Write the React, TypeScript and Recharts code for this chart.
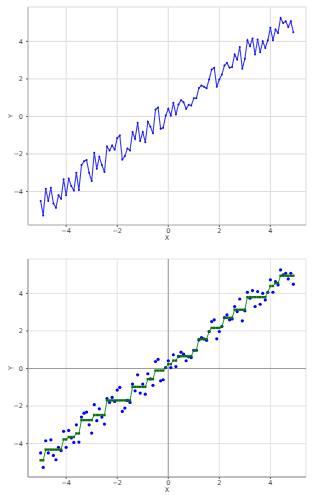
import React from 'react';
import {
  LineChart,
  Line,
  XAxis,
  YAxis,
  CartesianGrid,
  ComposedChart,
  Scatter,
  ReferenceLine,
} from 'recharts';

const X_VALUES = [
  -5.0, -4.9, -4.8, -4.7, -4.6, -4.5, -4.4, -4.3, -4.2, -4.1,
  -4.0, -3.9, -3.8, -3.7, -3.6, -3.5, -3.4, -3.3, -3.2, -3.1,
  -3.0, -2.9, -2.8, -2.7, -2.6, -2.5, -2.4, -2.3, -2.2, -2.1,
  -2.0, -1.9, -1.8, -1.7, -1.6, -1.5, -1.4, -1.3, -1.2, -1.1,
  -1.0, -0.9, -0.8, -0.7, -0.6, -0.5, -0.4, -0.3, -0.2, -0.1,
  0.0, 0.1, 0.2, 0.3, 0.4, 0.5, 0.6, 0.7, 0.8, 0.9,
  1.0, 1.1, 1.2, 1.3, 1.4, 1.5, 1.6, 1.7, 1.8, 1.9,
  2.0, 2.1, 2.2, 2.3, 2.4, 2.5, 2.6, 2.7, 2.8, 2.9,
  3.0, 3.1, 3.2, 3.3, 3.4, 3.5, 3.6, 3.7, 3.8, 3.9,
  4.0, 4.1, 4.2, 4.3, 4.4, 4.5, 4.6, 4.7, 4.8, 4.9,
];

const Y_VALUES = [
  -4.5, -5.27, -3.85, -4.5, -3.8, -4.63, -4.86, -4.2, -4.38, -3.35,
  -4.2, -3.3, -3.7, -3.94, -3.0, -3.92, -2.59, -2.38, -2.32, -3.0,
  -3.44, -1.93, -2.78, -2.15, -2.59, -2.96, -1.6, -1.81, -1.54, -1.76,
  -1.15, -1.01, -2.29, -2.11, -1.7, -1.81, -0.83, -1.19, -0.34, -1.31,
  -0.83, -1.37, -0.28, -0.55, -0.9, 0.37, 0.48, -0.66, -0.6, 0.05,
  0.41, 0.05, 0.73, 0.1, 0.64, 0.87, 0.76, 0.41, 0.62, 0.58,
  0.97, 0.97, 1.52, 1.65, 1.58, 1.5, 1.97, 2.5, 2.59, 1.58,
  1.97, 2.23, 2.71, 2.85, 2.59, 2.64, 3.3, 3.03, 3.7, 2.54,
  3.07, 4.06, 3.74, 4.15, 3.3, 4.1, 3.42, 4.0, 3.65, 4.06,
  4.72, 4.06, 4.63, 4.45, 5.25, 4.98, 5.07, 4.77, 5.07, 4.49,
];

const STEP_VALUES = [
  -4.89, -4.89, -4.32, -4.32, -4.32, -4.32, -4.32, -4.32, -4.32, -3.78,
  -3.78, -3.65, -3.65, -3.65, -3.46, -3.46, -2.75, -2.75, -2.75, -2.75,
  -2.75, -2.48, -2.48, -2.48, -2.48, -2.48, -1.7, -1.7, -1.7, -1.7,
  -1.7, -1.7, -1.7, -1.7, -1.7, -1.7, -0.98, -0.98, -0.98, -0.98,
  -0.98, -0.98, -0.57, -0.57, -0.57, -0.11, -0.11, -0.11, -0.11, 0.05,
  0.23, 0.23, 0.42, 0.42, 0.65, 0.65, 0.65, 0.65, 0.65, 0.65,
  0.97, 0.97, 1.56, 1.56, 1.56, 1.56, 1.97, 2.16, 2.16, 2.16,
  2.16, 2.23, 2.7, 2.7, 2.7, 2.7, 3.13, 3.13, 3.13, 3.13,
  3.13, 3.8, 3.8, 3.8, 3.8, 3.8, 3.8, 3.8, 3.8, 4.06,
  4.39, 4.39, 4.54, 4.54, 4.94, 4.94, 4.94, 4.94, 4.94, 4.94,
];

const TICKS = [-4, -2, 0, 2, 4];
const X_DOMAIN: [number, number] = [-5.495, 5.395];
const Y_DOMAIN: [number, number] = [-5.78, 5.83];

const data = X_VALUES.map((x, i) => ({ x, y: Y_VALUES[i], step: STEP_VALUES[i] }));

const FONT = 'DejaVu Sans, sans-serif';
const TEXT_COLOR = '#444';
const fmt = (v: number) => String(v).replace('-', '\u2212');
const tickStyle = { fontSize: 6.5, fill: TEXT_COLOR, fontFamily: FONT };

const XLabel = (props: any) => {
  const vb = props.viewBox || { x: 28, y: 225, width: 278, height: 21 };
  return (
    <text
      x={vb.x + vb.width / 2}
      y={vb.y + 15}
      textAnchor="middle"
      fontSize={6.5}
      fill={TEXT_COLOR}
      fontFamily={FONT}
    >
      X
    </text>
  );
};

const YLabel = (props: any) => {
  const vb = props.viewBox || { x: 0, y: 7, width: 28, height: 218 };
  const cx = vb.x + 11;
  const cy = vb.y + vb.height / 2;
  return (
    <text
      x={cx}
      y={cy}
      textAnchor="middle"
      dominantBaseline="central"
      fontSize={6.5}
      fill={TEXT_COLOR}
      fontFamily={FONT}
      transform={`rotate(-90, ${cx}, ${cy})`}
    >
      Y
    </text>
  );
};

const W = 326;
const H = 246;
const MARGIN = { top: 7, right: 20, bottom: 0, left: 0 };

const BlueDot = (props: any) => {
  const { cx, cy } = props;
  if (cx == null || cy == null) return null;
  return <circle cx={cx} cy={cy} r={1.6} fill="#0000ff" />;
};

const GreenDot = (props: any) => {
  const { cx, cy } = props;
  if (cx == null || cy == null) return null;
  return <rect x={cx - 1.2} y={cy - 1.2} width={2.4} height={2.4} fill="#0b6e0b" />;
};

const SmallBlueDot = (props: any) => {
  const { cx, cy } = props;
  if (cx == null || cy == null) return null;
  return <circle cx={cx} cy={cy} r={1} fill="#1010e0" />;
};

function axes(borderColor: string) {
  return [
    <XAxis
      key="xb"
      xAxisId={0}
      dataKey="x"
      type="number"
      domain={X_DOMAIN}
      ticks={TICKS}
      allowDataOverflow
      tickFormatter={fmt}
      tick={tickStyle}
      tickSize={2}
      tickMargin={1}
      stroke={borderColor}
      tickLine={{ stroke: '#666' }}
      height={21}
      label={<XLabel />}
    />,
    <XAxis
      key="xt"
      xAxisId="top"
      orientation="top"
      type="number"
      domain={X_DOMAIN}
      allowDataOverflow
      tick={false}
      tickLine={false}
      stroke={borderColor}
      height={0}
    />,
    <YAxis
      key="yl"
      yAxisId={0}
      type="number"
      domain={Y_DOMAIN}
      ticks={TICKS}
      allowDataOverflow
      tickFormatter={fmt}
      tick={tickStyle}
      tickSize={2}
      tickMargin={3}
      stroke={borderColor}
      tickLine={{ stroke: '#666' }}
      width={28}
      label={<YLabel />}
    />,
    <YAxis
      key="yr"
      yAxisId="right"
      orientation="right"
      type="number"
      domain={Y_DOMAIN}
      allowDataOverflow
      tick={false}
      tickLine={false}
      stroke={borderColor}
      width={0}
    />,
  ];
}

export default function App() {
  return (
    <div style={{ position: 'absolute', left: 0, top: 0, width: W, height: 495, background: '#fff' }}>
      <div style={{ position: 'absolute', left: 0, top: 0 }}>
        <LineChart width={W} height={H} data={data} margin={MARGIN}>
          <CartesianGrid stroke="#dcdcdc" strokeWidth={1} />
          {axes('#b5b5b5')}
          <Line
            dataKey="y"
            type="linear"
            stroke="#3535ff"
            strokeWidth={1.1}
            dot={<SmallBlueDot />}
            activeDot={false}
            isAnimationActive={false}
          />
        </LineChart>
      </div>
      <div style={{ position: 'absolute', left: 0, top: 252 }}>
        <ComposedChart width={W} height={H} data={data} margin={MARGIN}>
          <CartesianGrid stroke="#e2e2e2" strokeWidth={1} />
          {axes('#8a8a8a')}
          <ReferenceLine y={0} stroke="#9a9a9a" strokeWidth={1} />
          <ReferenceLine x={0} stroke="#9a9a9a" strokeWidth={1} />
          <Scatter dataKey="y" shape={<BlueDot />} isAnimationActive={false} />
          <Line
            dataKey="step"
            type="linear"
            stroke="#1f9a1f"
            strokeWidth={1}
            dot={<GreenDot />}
            activeDot={false}
            isAnimationActive={false}
          />
        </ComposedChart>
      </div>
    </div>
  );
}
